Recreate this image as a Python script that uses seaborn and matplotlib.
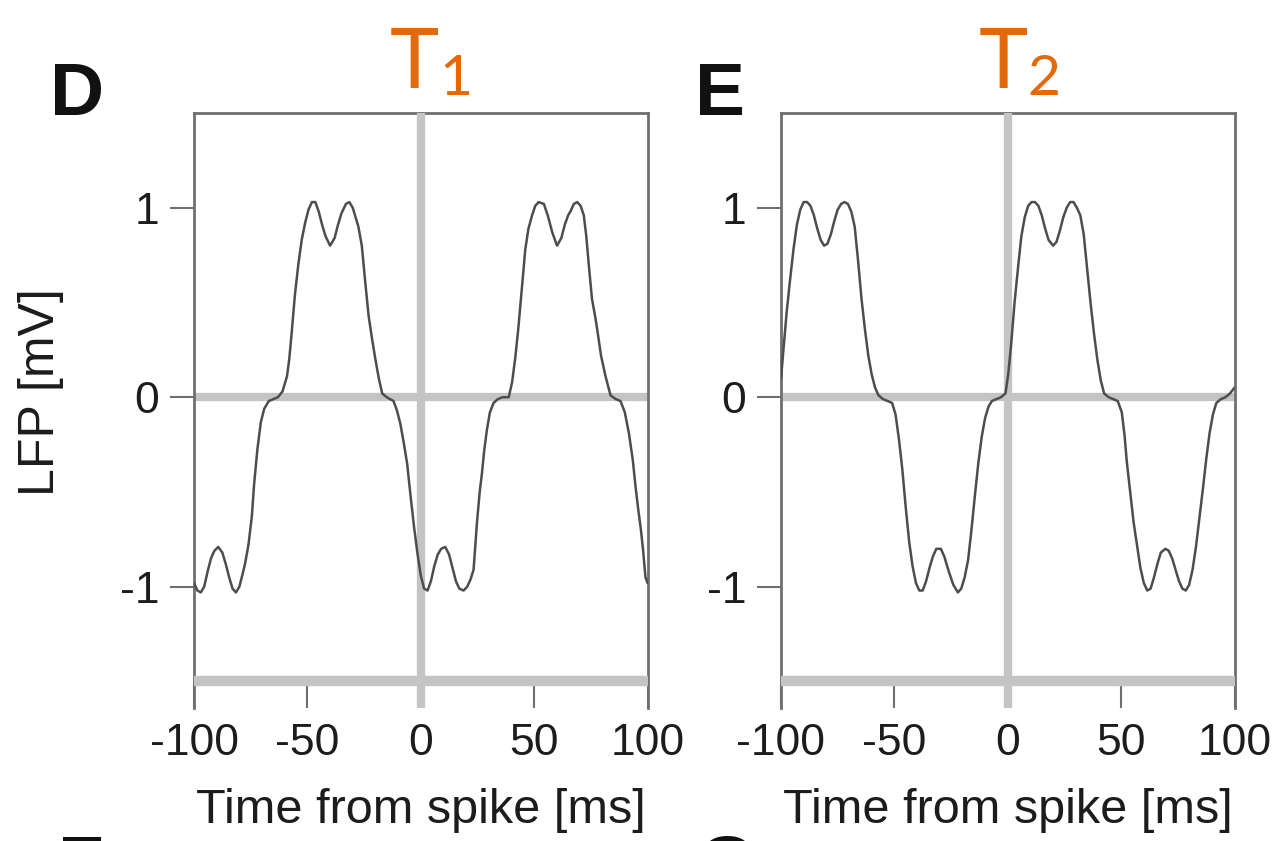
import matplotlib
matplotlib.use("Agg")
import matplotlib.pyplot as plt
import seaborn as sns

# LFP trace, panel D (ms / mV)
d_time = [-100, -98.5, -97, -95.5, -94, -92.5, -91, -89.3, -87.5, -86, -84.5, -83, -81.5, -80,
          -78.5, -77.5, -76, -74.5, -73.5, -72, -70.5, -69, -67, -65, -63, -61, -59, -58, -57,
          -55.5, -54, -52.5, -51, -49.5, -48, -46.5, -45, -43.5, -42, -40, -38, -36.5, -35,
          -33, -31.5, -30, -29, -27.5, -26, -24.5, -23, -21.5, -20, -18.5, -17, -15, -13.5, -12,
          -10.5, -9, -7.5, -6, -4.5, -3, -1.5, 0, 1.5, 3, 4.5, 6, 7.5, 9, 10.8, 12.5, 14, 15.5,
          17, 18.9, 20.5, 22, 23.3, 24.8, 26, 27, 28, 29.2, 30.5, 32.1, 34, 36, 38.8, 40.3, 41.7,
          43, 43.9, 45, 46.1, 47.5, 49.1, 50.5, 52, 54.3, 56, 58, 60.1, 62, 63.5, 65, 66, 67.5,
          69, 70.5, 71.9, 73, 74.1, 75.5, 77, 77.8, 79.5, 81.5, 83.7, 86, 88.1, 90, 91.8, 93.5,
          94.8, 96, 97, 98, 99.1, 100]
d_lfp = [-0.98, -1.02, -1.03, -1.0, -0.92, -0.85, -0.81, -0.79, -0.82, -0.88, -0.95, -1.01, -1.03, -1.0,
         -0.93, -0.88, -0.78, -0.63, -0.46, -0.27, -0.13, -0.06, -0.02, -0.01, 0.0, 0.03, 0.11, 0.2, 0.33,
         0.54, 0.7, 0.83, 0.92, 0.99, 1.03, 1.03, 0.98, 0.91, 0.85, 0.8, 0.84, 0.91, 0.97,
         1.02, 1.03, 1.0, 0.96, 0.9, 0.8, 0.61, 0.43, 0.31, 0.2, 0.1, 0.02, 0.0, -0.01, -0.02,
         -0.07, -0.14, -0.24, -0.35, -0.52, -0.68, -0.82, -0.94, -1.01, -1.02, -0.97, -0.89, -0.83, -0.8, -0.79, -0.83, -0.9, -0.97,
         -1.01, -1.02, -1.0, -0.96, -0.91, -0.66, -0.5, -0.4, -0.28, -0.17, -0.08, -0.03, -0.01, 0.0, 0.0, 0.08, 0.21,
         0.36, 0.48, 0.63, 0.78, 0.89, 0.96, 1.01, 1.03, 1.02, 0.96, 0.87, 0.8, 0.84, 0.91, 0.96, 0.98, 1.02,
         1.03, 1.01, 0.96, 0.85, 0.7, 0.52, 0.42, 0.36, 0.22, 0.11, 0.01, -0.01, -0.02, -0.08, -0.19, -0.33,
         -0.48, -0.6, -0.69, -0.8, -0.95, -0.98]

# LFP trace, panel E
e_time = [-100, -99, -97.5, -96, -94.5, -93, -91.5, -90, -88.5, -87, -85.5, -84, -82.5, -81, -79.5,
          -78, -76.5, -75, -73.5, -72, -70.5, -69, -67.5, -66, -64.5, -63, -61.5, -60, -58.5, -57,
          -55, -53, -51, -49.5, -48, -46.5, -45, -43.5, -42, -40.5, -39, -37.5, -36, -34.5, -33,
          -31.5, -29.5, -28, -26, -24, -22, -20.5, -19, -17.5, -16, -14.5, -13, -11.5, -10, -8.5,
          -7, -5, -3, -1, 0.2, 1.5, 3, 4.5, 6, 7.5, 9, 10.5, 12, 13.5, 15, 16.5, 18, 20, 21.5, 23,
          24.5, 26, 27.5, 29, 30.5, 32, 33.5, 35, 36.5, 38, 39.5, 41, 42.5, 44.5, 46.5, 48.5, 50.3,
          51.5, 52.5, 54, 55.5, 57, 58.5, 60, 61.5, 63, 64.5, 66, 67.5, 69.5, 71, 72.5, 74, 75.5,
          77, 78.5, 80, 81.5, 83, 84.5, 86, 87.5, 89, 90.5, 92, 94, 96, 98, 100]
e_lfp = [0.1, 0.24, 0.45, 0.62, 0.78, 0.91, 0.99, 1.03, 1.03, 1.01, 0.96, 0.89, 0.83, 0.8, 0.81,
         0.86, 0.93, 0.99, 1.02, 1.03, 1.02, 0.98, 0.9, 0.72, 0.52, 0.36, 0.22, 0.12, 0.05, 0.01,
         -0.01, -0.02, -0.03, -0.09, -0.22, -0.38, -0.58, -0.76, -0.89, -0.98, -1.02, -1.02, -0.97, -0.9, -0.84,
         -0.8, -0.8, -0.84, -0.92, -0.99, -1.03, -1.01, -0.95, -0.86, -0.7, -0.52, -0.35, -0.21, -0.11, -0.05,
         -0.02, -0.01, 0.0, 0.02, 0.12, 0.28, 0.5, 0.68, 0.85, 0.95, 1.01, 1.03, 1.03, 1.01, 0.96, 0.89, 0.83, 0.8, 0.82, 0.88,
         0.95, 1.0, 1.03, 1.03, 1.0, 0.96, 0.86, 0.68, 0.5, 0.34, 0.2, 0.09, 0.02, 0.0, -0.01, -0.02, -0.08,
         -0.2, -0.34, -0.5, -0.66, -0.78, -0.9, -0.98, -1.02, -1.01, -0.95, -0.88, -0.82, -0.8, -0.81, -0.85, -0.91, -0.97,
         -1.01, -1.02, -0.99, -0.91, -0.79, -0.64, -0.49, -0.33, -0.19, -0.09, -0.03, -0.01, 0.0, 0.02, 0.05]

x_ticks = [-100, -50, 0, 50, 100]
y_ticks = [-1, 0, 1]
panel_letters = ["D", "E"]
panel_subs = ["1", "2"]

sns.set_theme(style="white")
plt.rcParams["font.family"] = ["Liberation Sans", "DejaVu Sans"]
plt.rcParams["axes.unicode_minus"] = False

orange = "#e26a0c"
frame = "#6f6f6f"
guide = "#c4c4c4"
ink = "#1c1c1c"

fig = plt.figure(figsize=(12.85, 8.41), dpi=100)
W, H = 1285, 841
axD = fig.add_axes([194 / W, 1 - 708 / H, 453.5 / W, 595 / H])
axE = fig.add_axes([781 / W, 1 - 708 / H, 453.5 / W, 595 / H])

for ax, t, v in [(axD, d_time, d_lfp), (axE, e_time, e_lfp)]:
    ax.axhline(0, color=guide, lw=6, zorder=1)
    ax.axvline(0, color=guide, lw=6, zorder=3)
    ax.axhline(-1.5, color=guide, lw=7.5, zorder=3)
    sns.lineplot(x=t, y=v, ax=ax, color="#4d4d4d", linewidth=1.8, zorder=4)
    ax.set_xlim(-100, 100)
    ax.set_ylim(-1.64, 1.5)
    ax.set_xticks(x_ticks)
    ax.set_xticklabels([str(x) for x in x_ticks])
    ax.set_yticks(y_ticks)
    ax.set_yticklabels([str(y) for y in y_ticks])
    for s in ["top", "left", "right"]:
        ax.spines[s].set_color(frame)
        ax.spines[s].set_linewidth(2)
    ax.spines["bottom"].set_visible(False)
    ax.tick_params(axis="x", direction="in", length=17, width=1.5, color=frame,
                   pad=11, labelsize=32, labelcolor=ink, bottom=True)
    ax.tick_params(axis="y", direction="out", length=17, width=1.5, color=frame,
                   pad=8, labelsize=32, labelcolor=ink, left=True)
    ax.set_xlabel("Time from spike [ms]", fontsize=35, color=ink, labelpad=17)
    ax.grid(False)

axD.set_ylabel("LFP [mV]", fontsize=36, color=ink)
axD.yaxis.set_label_coords(-0.287, 0.531)
axE.set_ylabel("")

# panel letters and T1 / T2 headers
for x0, letter in zip([50, 695], panel_letters):
    fig.text(x0 / W, 1 - 115 / H, letter, fontsize=54, fontweight="bold",
             color="#111111", ha="left", va="baseline")
for xt, xs, sub in zip([390, 979], [439, 1027], panel_subs):
    fig.text(xt / W, 1 - 88 / H, "T", fontsize=60, color=orange,
             family=["Lato", "DejaVu Sans"], ha="left", va="baseline")
    fig.text(xs / W, 1 - 95 / H, sub, fontsize=41, color=orange,
             family=["Lato", "DejaVu Sans"], ha="left", va="baseline")

# tops of the next row's panel letters, cut by the edge
for x0, letter in zip([58, 698], ["F", "G"]):
    fig.text(x0 / W, 1 - 888 / H, letter, fontsize=54, fontweight="bold",
             color="#111111", ha="left", va="baseline")

fig.savefig("out.png", dpi=100)
